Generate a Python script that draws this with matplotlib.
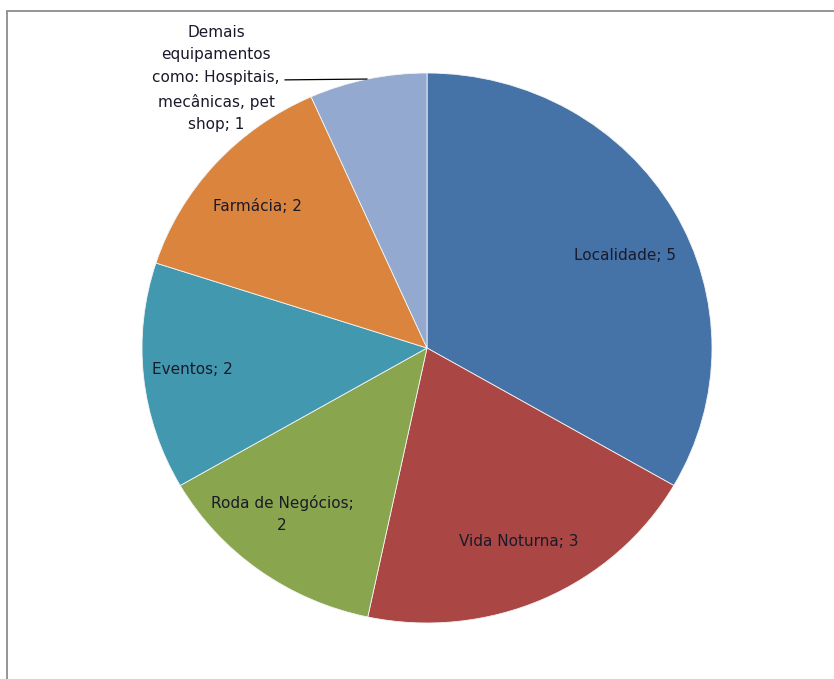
import matplotlib.pyplot as plt
from matplotlib.patches import Rectangle

categorias = ['Localidade', 'Vida Noturna', 'Roda de Negócios', 'Eventos', 'Farmácia',
              'Demais equipamentos como: Hospitais, mecânicas, pet shop']
valores = [5, 3, 2, 2, 2, 1]
rotulos = ['Localidade; 5', 'Vida Noturna; 3', 'Roda de Negócios;\n2', 'Eventos; 2',
           'Farmácia; 2', 'Demais\nequipamentos\ncomo: Hospitais,\nmecânicas, pet\nshop; 1']
cores = ['#4572A7', '#AA4643', '#89A54E', '#4198AF', '#DB843D', '#93A9CF']

# label positions (data coords, pie radius = 1)
pos_rotulos = [(0.695, 0.338), (0.323, -0.705), (-0.509, -0.604), (-0.825, -0.08),
               (-0.596, 0.513), (-0.740, 0.98)]

W, H = 834, 679
fig = plt.figure(figsize=(W / 100, H / 100), dpi=100)

# chart frame (left and top edges visible, rest cut off)
fig.patches.append(Rectangle((7 / W, -0.1), 1.2, (H - 11) / H + 0.1,
                             transform=fig.transFigure, fill=False,
                             edgecolor='#8c8c8c', linewidth=1.3))

cx, cy, rx, ry = 427, 348, 285, 275
ax = fig.add_axes([(cx - rx) / W, (H - cy - ry) / H, 2 * rx / W, 2 * ry / H])
ax.pie(valores, colors=cores, startangle=90, counterclock=False, radius=1,
       wedgeprops=dict(edgecolor='#f4f4f4', linewidth=0.6))
ax.set_aspect('auto')
ax.set_xlim(-1, 1)
ax.set_ylim(-1, 1)
ax.axis('off')

for txt, (x, y) in zip(rotulos, pos_rotulos):
    ax.text(x, y, txt, ha='center', va='center', fontsize=11, color='#1a1a2a',
            linespacing=1.65, clip_on=False)

# leader line for the small slice
ax.plot([-0.498, -0.211], [0.975, 0.978], color='black', linewidth=0.9, clip_on=False)

fig.savefig('out.png', dpi=100)
